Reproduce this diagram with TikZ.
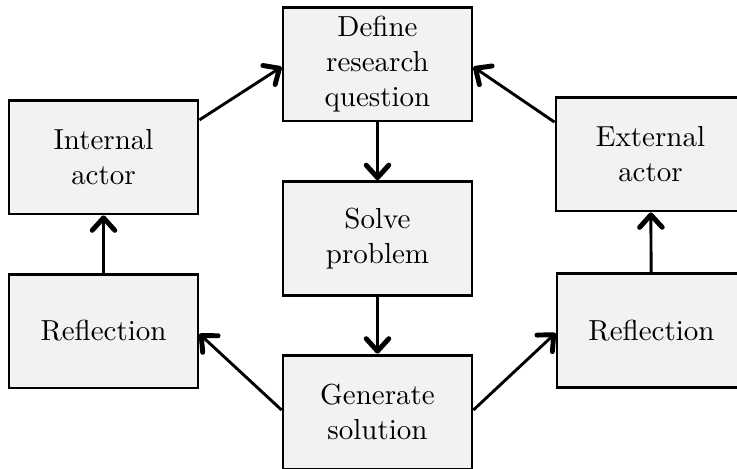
\documentclass[tikz,border=0pt]{standalone}
\usetikzlibrary{arrows.meta}
\begin{document}
\begin{tikzpicture}[x=0.345pt,y=-0.345pt,
  stepbox/.style={draw=black, line width=1pt, fill=black!5, minimum width=65.2pt, minimum height=39.3pt, inner sep=0pt, align=center, font=\normalsize},
  conn/.style={line width=1pt, -{Straight Barb[length=4.3pt,width=7.8pt,line width=1.7pt,round]}}]
\path[use as bounding box] (0,0) rectangle (737,468);
\clip (0,0) rectangle (737,468);
\node[stepbox] (def) at (377.5,64) {Define\\research\\question};
\node[stepbox] (solve) at (377.5,238.5) {Solve\\problem};
\node[stepbox] (gen) at (377.5,412) {Generate\\solution};
\node[stepbox] (int) at (103.5,157) {Internal\\actor};
\node[stepbox] (refl) at (103.5,331) {Reflection};
\node[stepbox] (ext) at (650.5,154) {External\\actor};
\node[stepbox] (refr) at (651.5,330.5) {Reflection};
\draw[conn] (def) -- (solve);
\draw[conn] (solve) -- (gen);
\draw[conn] (refl) -- (int);
\draw[conn] (refr) -- (ext);
\draw[conn] ([yshift=12.8pt]int.east) -- ([yshift=-1pt]def.west);
\draw[conn] ([yshift=11pt]ext.west) -- ([yshift=-1pt]def.east);
\draw[conn] ([yshift=0.7pt]gen.west) -- ([yshift=-1pt]refl.east);
\draw[conn] ([yshift=0.7pt]gen.east) -- ([yshift=-0.9pt]refr.west);
\end{tikzpicture}
\end{document}
